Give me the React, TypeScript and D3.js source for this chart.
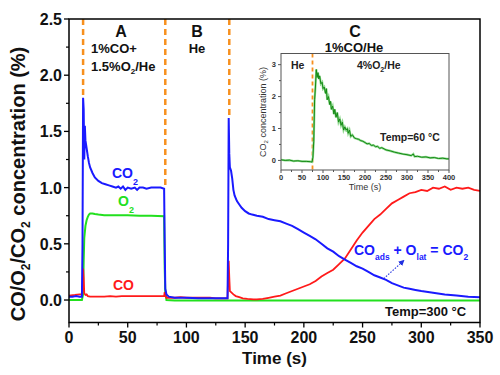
import React from "react";
import * as d3 from "d3";

// ---- main chart data: [time (s), concentration (%)] ----
const co2Series: [number, number][] = [
  [0, 0.03], [3, 0.03], [6, 0.035], [9, 0.03], [11, 0.03], [11.5, 0.5], [12, 1.8], [12.5, 1.7], [13, 1.25],
  [13.5, 1.55], [14, 1.42], [15, 1.35], [16, 1.28], [17, 1.22], [18, 1.18], [20, 1.13], [22, 1.09], [25, 1.06],
  [28, 1.04], [31, 1.03], [34, 1.02], [37, 1.01], [40, 1.0], [42, 1.01], [44, 0.99], [46, 1.01], [48, 0.98],
  [50, 1.0], [53, 0.99], [56, 1.0], [58, 0.98], [60, 1.0], [63, 1.0], [66, 0.99], [70, 1.0], [74, 1.0], [78, 1.0],
  [81, 0.99], [81.5, 0.5], [82, 0.1], [83, 0.05], [85, 0.03], [90, 0.02], [100, 0.02], [110, 0.015], [120, 0.015],
  [130, 0.015], [135, 0.015], [135.5, 0.5], [136, 1.62], [136.5, 1.3], [137, 1.18], [138, 1.15], [139, 1.08],
  [140, 0.98], [141, 0.93], [143, 0.88], [145, 0.85], [147, 0.82], [150, 0.79], [153, 0.77], [156, 0.76],
  [160, 0.75], [165, 0.74], [170, 0.72], [175, 0.71], [180, 0.7], [185, 0.68], [190, 0.66], [195, 0.63],
  [200, 0.6], [205, 0.57], [210, 0.54], [215, 0.5], [220, 0.46], [225, 0.43], [230, 0.39], [235, 0.36],
  [240, 0.33], [245, 0.3], [250, 0.28], [255, 0.25], [260, 0.22], [265, 0.2], [270, 0.18], [275, 0.15],
  [280, 0.13], [285, 0.11], [290, 0.1], [295, 0.09], [300, 0.08], [310, 0.065], [320, 0.05], [330, 0.04],
  [340, 0.03], [350, 0.025],
];

const o2Series: [number, number][] = [
  [0, 0.0], [11, 0.0], [12, 0.05], [12.5, 0.35], [13, 0.55], [14, 0.66], [15, 0.71], [16, 0.74], [17, 0.76],
  [18, 0.77], [20, 0.77], [22, 0.765], [25, 0.76], [30, 0.755], [40, 0.755], [50, 0.755], [60, 0.75], [70, 0.75],
  [81, 0.745], [81.5, 0.28], [82, 0.07], [83, 0.0], [90, -0.005], [200, -0.005], [350, -0.005],
];

const coSeries: [number, number][] = [
  [0, 0.04], [5, 0.045], [9, 0.05], [11, 0.05], [11.5, 0.1], [12, 0.28], [12.5, 0.2], [13, 0.06], [14, 0.045],
  [15, 0.05], [16, 0.035], [18, 0.03], [20, 0.03], [25, 0.03], [30, 0.03], [35, 0.035], [40, 0.03], [45, 0.035],
  [50, 0.035], [60, 0.035], [70, 0.035], [81, 0.035], [81.5, 0.07], [82, 0.04], [83, 0.02], [85, 0.02],
  [90, 0.02], [95, 0.025], [100, 0.02], [110, 0.02], [120, 0.02], [125, 0.015], [135, 0.015], [135.5, 0.2],
  [136, 0.35], [136.5, 0.2], [137, 0.08], [138, 0.07], [140, 0.05], [142, 0.035], [145, 0.025], [148, 0.015],
  [152, 0.01], [157, 0.005], [160, 0.005], [165, 0.01], [170, 0.02], [175, 0.03], [180, 0.04], [185, 0.06],
  [190, 0.08], [195, 0.1], [200, 0.12], [205, 0.14], [210, 0.17], [215, 0.21], [220, 0.24], [225, 0.27],
  [230, 0.32], [235, 0.37], [240, 0.45], [245, 0.53], [250, 0.6], [255, 0.66], [260, 0.72], [265, 0.76],
  [270, 0.81], [275, 0.86], [280, 0.89], [285, 0.92], [290, 0.95], [295, 0.96], [300, 0.98], [305, 0.97],
  [310, 1.0], [315, 0.99], [320, 1.01], [325, 0.98], [330, 1.0], [335, 0.99], [340, 1.0], [345, 0.98], [350, 0.97],
];

// gas switching times (dashed lines) and the CO2 level they reach
const switchTimes = [12, 82, 136.5];
const switchTops = [1.8, 1.0, 1.62];

const xTicks = [0, 50, 100, 150, 200, 250, 300, 350];
const yTicks = [0.0, 0.5, 1.0, 1.5, 2.0, 2.5];

// ---- inset data ----
const insetSeries: [number, number][] = [
  [0, 0.02], [10, 0.0], [20, 0.01], [30, -0.02], [40, -0.01], [50, -0.03], [60, -0.03], [70, -0.04], [74, -0.05],
  [76, 0.1], [78, 0.6], [80, 1.9], [82, 2.3], [84, 2.85], [86, 2.6], [88, 2.75], [90, 2.55], [92, 2.65], [95, 2.4],
  [98, 2.45], [100, 2.25], [103, 2.3], [106, 2.1], [108, 2.25], [110, 1.9], [113, 2.0], [116, 1.75], [118, 1.85],
  [120, 1.6], [123, 1.7], [126, 1.45], [128, 1.6], [131, 1.35], [134, 1.5], [137, 1.2], [140, 1.3], [143, 1.1],
  [146, 1.2], [149, 0.95], [152, 1.05], [155, 0.95], [158, 1.0], [160, 0.85], [163, 0.95], [166, 0.75],
  [170, 0.8], [175, 0.7], [180, 0.68], [185, 0.66], [190, 0.62], [195, 0.6], [200, 0.56], [205, 0.52],
  [210, 0.53], [215, 0.47], [220, 0.48], [225, 0.43], [230, 0.44], [235, 0.38], [240, 0.4], [250, 0.33],
  [260, 0.3], [270, 0.26], [280, 0.23], [290, 0.2], [300, 0.18], [310, 0.15], [315, 0.2], [318, 0.12],
  [325, 0.13], [335, 0.1], [345, 0.11], [355, 0.08], [365, 0.09], [375, 0.06], [385, 0.07], [395, 0.05], [400, 0.05],
];
const insetSwitch = 75;
const insetXTicks = [0, 50, 100, 150, 200, 250, 300, 350, 400];
const insetYTicks = [0, 1, 2, 3];

const FONT = "'Liberation Sans', Arial, sans-serif";
const ORANGE = "#f7901e";

export default function App() {
  const W = 500, H = 375;
  const x = d3.scaleLinear().domain([0, 350]).range([69, 480]);
  const y = d3.scaleLinear().domain([-0.2, 2.5]).range([322.5, 19]);
  const line = d3.line<[number, number]>().x(d => x(d[0])).y(d => y(d[1]));

  const ix = d3.scaleLinear().domain([0, 400]).range([281, 449]);
  const iy = d3.scaleLinear().domain([-0.3, 3.35]).range([170, 53.5]);
  const iline = d3.line<[number, number]>().x(d => ix(d[0])).y(d => iy(d[1]));

  const xMinor = d3.range(25, 350, 50);
  const yMinor = d3.range(-0.25, 2.5, 0.5).filter(v => v > -0.2);
  const ixMinor = d3.range(25, 400, 50);
  const iyMinor = [-0.5, 0.5, 1.5, 2.5].filter(v => v > -0.3);

  const [x0, x1] = x.range();
  const [yb, yt] = y.range();

  return (
    <svg width={W} height={H} style={{ display: "block", position: "absolute", left: 0, top: 0, background: "#fff" }}
      fontFamily={FONT}>
      <defs>
        <marker id="arr" viewBox="0 0 10 10" refX="8" refY="5" markerWidth="5" markerHeight="5" orient="auto">
          <path d="M0,0 L10,5 L0,10 z" fill="#2030e0" />
        </marker>
      </defs>

      {/* dashed switching lines */}
      {switchTimes.map((t, i) => (
        <line key={"sw" + i} x1={x(t)} x2={x(t)} y1={yt} y2={y(switchTops[i])}
          stroke={ORANGE} strokeWidth={2.5} strokeDasharray="6,4" />
      ))}

      {/* curves */}
      <path d={line(o2Series) || ""} fill="none" stroke="#22e01e" strokeWidth={2} />
      <path d={line(coSeries) || ""} fill="none" stroke="#ff1a1a" strokeWidth={1.8} />
      <path d={line(co2Series) || ""} fill="none" stroke="#1a1aff" strokeWidth={2} />

      {/* main frame */}
      <rect x={x0} y={yt} width={x1 - x0} height={yb - yt} fill="none" stroke="#000" strokeWidth={1.5} />

      {/* x ticks */}
      {xTicks.map(t => (
        <g key={"xt" + t}>
          <line x1={x(t)} x2={x(t)} y1={yb} y2={yb + 5} stroke="#000" strokeWidth={1.3} />
          <text x={x(t)} y={343} textAnchor="middle" fontSize={16} fontWeight="bold" fill="#111">{t}</text>
        </g>
      ))}
      {xMinor.map(t => (
        <line key={"xm" + t} x1={x(t)} x2={x(t)} y1={yb} y2={yb + 3} stroke="#000" strokeWidth={1.2} />
      ))}
      {/* y ticks */}
      {yTicks.map(v => (
        <g key={"yt" + v}>
          <line x1={x0 - 5} x2={x0} y1={y(v)} y2={y(v)} stroke="#000" strokeWidth={1.3} />
          <text x={62} y={y(v) + 6} textAnchor="end" fontSize={16} fontWeight="bold" fill="#111">{v.toFixed(1)}</text>
        </g>
      ))}
      {yMinor.map(v => (
        <line key={"ym" + v} x1={x0 - 3} x2={x0} y1={y(v)} y2={y(v)} stroke="#000" strokeWidth={1.2} />
      ))}

      {/* axis titles */}
      <text x={(x0 + x1) / 2} y={364} textAnchor="middle" fontSize={17} fontWeight="bold" fill="#111">Time (s)</text>
      <text transform="translate(25,184) rotate(-90)" textAnchor="middle" fontSize={20} fontWeight="bold" fill="#111">
        CO/O<tspan fontSize={12} dy={5}>2</tspan><tspan dy={-5}>/CO</tspan><tspan fontSize={12} dy={5}>2</tspan>
        <tspan dy={-5}> concentration (%)</tspan>
      </text>

      {/* region labels */}
      <g fontWeight="bold" fill="#111">
        <text x={121} y={37} textAnchor="middle" fontSize={16}>A</text>
        <text x={197} y={37} textAnchor="middle" fontSize={16}>B</text>
        <text x={355} y={37} textAnchor="middle" fontSize={16}>C</text>
        <text x={91} y={53} fontSize={13}>1%CO+</text>
        <text x={91} y={71} fontSize={13}>1.5%O<tspan fontSize={8} dy={3}>2</tspan><tspan dy={-3}>/He</tspan></text>
        <text x={197} y={53} textAnchor="middle" fontSize={13}>He</text>
        <text x={354} y={52} textAnchor="middle" fontSize={13}>1%CO/He</text>
      </g>

      {/* series labels */}
      <g fontWeight="bold">
        <text x={112} y={178} fontSize={14} fill="#1a1aff">CO<tspan fontSize={9} dy={7}>2</tspan></text>
        <text x={118} y={206} fontSize={14} fill="#22e01e">O<tspan fontSize={9} dy={7}>2</tspan></text>
        <text x={113} y={290} fontSize={14} fill="#ff1a1a">CO</text>
        <text x={354} y={255} fontSize={14} fill="#1a1aff">
          CO<tspan fontSize={8.5} dy={5}>ads</tspan><tspan dy={-5}> + O</tspan><tspan fontSize={8.5} dy={5}>lat</tspan>
          <tspan dy={-5}> = CO</tspan><tspan fontSize={8.5} dy={5}>2</tspan>
        </text>
        <text x={385} y={316} fontSize={13} fill="#111">Temp=300 °C</text>
      </g>
      <line x1={x(268)} y1={y(0.19)} x2={x(285)} y2={y(0.35)} stroke="#2030e0" strokeWidth={1.2}
        strokeDasharray="1.5,1.5" markerEnd="url(#arr)" />

      {/* ---------- inset ---------- */}
      <line x1={ix(insetSwitch)} x2={ix(insetSwitch)} y1={iy.range()[1]} y2={iy.range()[0]}
        stroke={ORANGE} strokeWidth={1.8} strokeDasharray="4,3" />
      <path d={iline(insetSeries) || ""} fill="none" stroke="#8fd88f" strokeWidth={2.2} />
      <path d={iline(insetSeries) || ""} fill="none" stroke="#148a14" strokeWidth={1} />
      <rect x={ix.range()[0]} y={iy.range()[1]} width={ix.range()[1] - ix.range()[0]}
        height={iy.range()[0] - iy.range()[1]} fill="none" stroke="#555" strokeWidth={1} />
      {insetXTicks.map(t => (
        <g key={"ixt" + t}>
          <line x1={ix(t)} x2={ix(t)} y1={iy.range()[0]} y2={iy.range()[0] + 3} stroke="#555" />
          <text x={ix(t)} y={180} textAnchor="middle" fontSize={7.5} fontWeight="bold" fill="#333">{t}</text>
        </g>
      ))}
      {ixMinor.map(t => (
        <line key={"ixm" + t} x1={ix(t)} x2={ix(t)} y1={iy.range()[0]} y2={iy.range()[0] + 2} stroke="#555" />
      ))}
      {insetYTicks.map(v => (
        <g key={"iyt" + v}>
          <line x1={ix.range()[0] - 3} x2={ix.range()[0]} y1={iy(v)} y2={iy(v)} stroke="#555" />
          <text x={276} y={iy(v) + 2.7} textAnchor="end" fontSize={7.5} fontWeight="bold" fill="#333">{v}</text>
        </g>
      ))}
      {iyMinor.map(v => (
        <line key={"iym" + v} x1={ix.range()[0] - 2} x2={ix.range()[0]} y1={iy(v)} y2={iy(v)} stroke="#555" />
      ))}
      <text x={365} y={190} textAnchor="middle" fontSize={9} fill="#333">Time (s)</text>
      <text transform="translate(266,112) rotate(-90)" textAnchor="middle" fontSize={9} fill="#333">
        CO<tspan fontSize={6} dy={2}>2</tspan><tspan dy={-2}> concentration (%)</tspan>
      </text>
      <g fontWeight="bold" fill="#222" fontSize={10.5}>
        <text x={291} y={69}>He</text>
        <text x={357} y={69}>4%O<tspan fontSize={7} dy={2.5}>2</tspan><tspan dy={-2.5}>/He</tspan></text>
        <text x={380} y={141}>Temp=60 °C</text>
      </g>
    </svg>
  );
}
